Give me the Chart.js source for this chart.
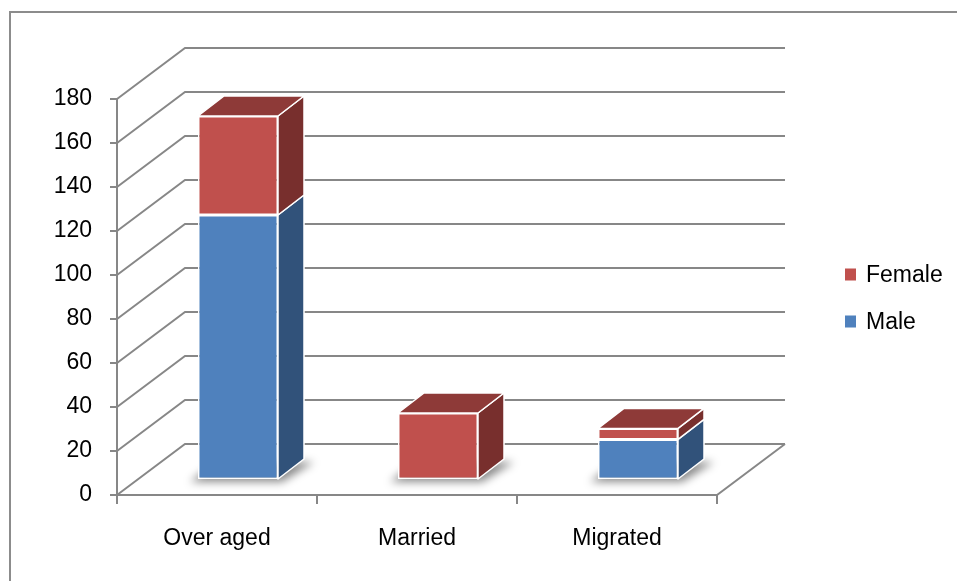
<!DOCTYPE html>
<html><head><meta charset="utf-8">
<script src="https://cdn.jsdelivr.net/npm/chart.js@4.4.1/dist/chart.umd.min.js"></script>
<style>html,body{margin:0;padding:0;background:#fff;overflow:hidden}#wrap{width:957px;height:581px}</style>
</head><body><div id="wrap"><canvas id="c" width="957" height="581"></canvas></div>
<script>
// ---- data ----
const categories = ['Over aged', 'Married', 'Migrated'];
const maleValues = [120, 0, 18];
const femaleValues = [45, 30, 5];
const yMin = 0, yMax = 180, yStep = 20;

// ---- style / projection constants ----
const FONT = "'Liberation Sans',Arial,sans-serif";
const FSIZE = 23;
const WDX = 68, WDY = -51;   // wall depth offset
const BFX = 21, BFY = -16;   // bar front-plane offset
const BDX = 26, BDY = -20;   // bar depth
const GRID = '#878787';

const threeD = {
  id: 'threeD',
  beforeDraw(chart) {
    const ctx = chart.ctx;
    ctx.save();
    ctx.strokeStyle = '#8c8c8c'; ctx.lineWidth = 2;
    ctx.strokeRect(10, 12, 2000, 2000);
    ctx.restore();
  },
  beforeDatasetsDraw(chart) {
    const ctx = chart.ctx, a = chart.chartArea, x = chart.scales.x, y = chart.scales.y;
    ctx.save();
    ctx.strokeStyle = GRID; ctx.lineWidth = 2; ctx.lineJoin = 'miter';
    y.ticks.forEach(t => {
      const py = y.getPixelForValue(t.value);
      ctx.beginPath();
      ctx.moveTo(a.left, py); ctx.lineTo(a.left + WDX, py + WDY); ctx.lineTo(a.right + WDX, py + WDY);
      ctx.stroke();
      ctx.beginPath(); ctx.moveTo(a.left - 7, py); ctx.lineTo(a.left, py); ctx.stroke();
    });
    ctx.beginPath(); ctx.moveTo(a.left, a.top); ctx.lineTo(a.left, a.bottom); ctx.stroke();
    ctx.beginPath(); ctx.moveTo(a.left, a.bottom); ctx.lineTo(a.right, a.bottom); ctx.lineTo(a.right + WDX, a.bottom + WDY); ctx.stroke();
    const band = x.getPixelForValue(1) - x.getPixelForValue(0);
    for (let i = 0; i <= categories.length; i++) {
      const px = x.getPixelForValue(i) - band / 2;
      ctx.beginPath(); ctx.moveTo(px, a.bottom); ctx.lineTo(px, a.bottom + 9); ctx.stroke();
    }
    ctx.restore();

    // soft shadows under bars
    const metas = chart.data.datasets.map((d, i) => chart.getDatasetMeta(i));
    ctx.save();
    ctx.filter = 'blur(4px)';
    ctx.fillStyle = 'rgba(0,0,0,0.45)';
    for (let j = 0; j < categories.length; j++) {
      const el = metas.map(m => m.data[j]).find(e => Math.abs(e.base - e.y) > 0.5);
      if (!el) continue;
      const x0 = el.x - el.width / 2 + BFX - 8, x1 = el.x + el.width / 2 + BFX + 4, b = el.base + BFY + 3;
      ctx.beginPath();
      ctx.moveTo(x0, b); ctx.lineTo(x1, b); ctx.lineTo(x1 + BDX + 6, b + BDY); ctx.lineTo(x0 + BDX, b + BDY);
      ctx.closePath(); ctx.fill();
    }
    ctx.restore();

    ctx.save();
    ctx.translate(BFX, BFY);
  },
  afterDatasetsDraw(chart) {
    const ctx = chart.ctx;
    const metas = chart.data.datasets.map((d, i) => chart.getDatasetMeta(i));
    const poly = (pts, fill) => {
      ctx.beginPath(); ctx.moveTo(pts[0][0], pts[0][1]);
      for (let k = 1; k < pts.length; k++) ctx.lineTo(pts[k][0], pts[k][1]);
      ctx.closePath(); ctx.fillStyle = fill; ctx.fill(); ctx.stroke();
    };
    ctx.strokeStyle = '#ffffff'; ctx.lineWidth = 1.5; ctx.lineJoin = 'round';
    for (let j = 0; j < categories.length; j++) {
      let topIdx = -1;
      metas.forEach((m, i) => { const e = m.data[j]; if (Math.abs(e.base - e.y) > 0.5) topIdx = i; });
      metas.forEach((m, i) => {
        const e = m.data[j];
        if (Math.abs(e.base - e.y) <= 0.5) return;
        const ds = chart.data.datasets[i];
        const x0 = e.x - e.width / 2, x1 = e.x + e.width / 2;
        const top = Math.min(e.y, e.base), bot = Math.max(e.y, e.base);
        poly([[x1, top], [x1 + BDX, top + BDY], [x1 + BDX, bot + BDY], [x1, bot]], ds.sideColor);
        if (i === topIdx) poly([[x0, top], [x0 + BDX, top + BDY], [x1 + BDX, top + BDY], [x1, top]], ds.topColor);
      });
    }
    ctx.restore();
  },
  afterDraw(chart) {
    const ctx = chart.ctx, a = chart.chartArea;
    const items = chart.data.datasets.slice().reverse();
    const lx = a.right + WDX + 60, mid = (a.top + a.bottom) / 2 + 1, gap = 47;
    ctx.save();
    ctx.font = FSIZE + 'px ' + FONT; ctx.textBaseline = 'middle'; ctx.fillStyle = '#000';
    items.forEach((ds, k) => {
      const cy = mid - gap / 2 + k * gap;
      ctx.fillStyle = ds.backgroundColor;
      ctx.fillRect(lx, cy - 6, 11, 12);
      ctx.fillStyle = '#000';
      ctx.fillText(ds.label, lx + 21, cy + 1);
    });
    ctx.restore();
  }
};

new Chart(document.getElementById('c'), {
  type: 'bar',
  data: {
    labels: categories,
    datasets: [
      { label: 'Male', data: maleValues, backgroundColor: '#4F81BD', sideColor: '#31527A', topColor: '#3E6799',
        borderColor: '#ffffff', borderWidth: 1.5, borderSkipped: false, clip: false },
      { label: 'Female', data: femaleValues, backgroundColor: '#C0504D', sideColor: '#782F2D', topColor: '#8E3A38',
        borderColor: '#ffffff', borderWidth: 1.5, borderSkipped: false, clip: false }
    ]
  },
  options: {
    responsive: false, animation: false, devicePixelRatio: 1,
    layout: { padding: { left: 0, top: 99, right: 240, bottom: 0 } },
    plugins: { legend: { display: false }, tooltip: { enabled: false } },
    datasets: { bar: { barPercentage: 0.4, categoryPercentage: 1 } },
    scales: {
      x: {
        stacked: true, offset: true,
        grid: { display: false, drawTicks: false }, border: { display: false },
        ticks: { color: '#000', font: { family: FONT, size: FSIZE }, padding: 30, maxRotation: 0 },
        afterFit: s => { s.height = 86; }
      },
      y: {
        stacked: true, min: yMin, max: yMax,
        grid: { display: false, drawTicks: false }, border: { display: false },
        ticks: { stepSize: yStep, color: '#000', font: { family: FONT, size: FSIZE }, padding: 25 },
        afterFit: s => { s.width = 117; }
      }
    }
  },
  plugins: [threeD]
});
</script>
</body></html>
